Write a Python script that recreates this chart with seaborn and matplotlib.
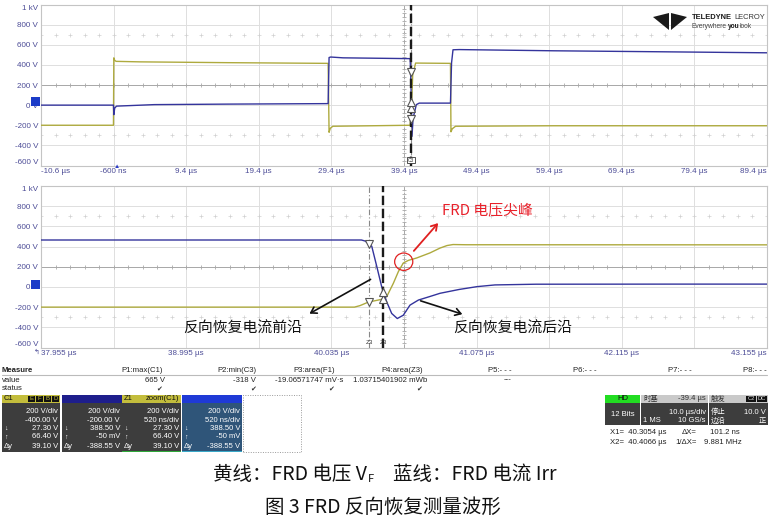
import numpy as np
import matplotlib
matplotlib.use("Agg")
import matplotlib.pyplot as plt
import seaborn as sns
from matplotlib.patches import Rectangle, Ellipse, Polygon

# ---- data ----
# overview, 10 us/div (time in us, level in V)
ov_t_c1 = [-10.6, -0.62, -0.57, -0.45, -0.25, 3.0, 15.0, 28.95, 29.08, 29.25, 29.6, 35.0,
           40.25, 40.45, 40.6, 41.0, 45.8, 45.87, 46.05, 46.5, 60.0, 89.4]
ov_v_c1 = [-200, -200, 470, 445, 435, 430, 422, 415, -270, -230, -210, -205,
           -200, 20, 300, 418, 415, -265, -235, -210, -205, -205]
ov_t_c3 = [-10.6, -0.62, -0.57, -0.45, -0.2, 5.0, 15.0, 28.95, 29.08, 29.3, 31.0, 40.25,
           40.36, 40.5, 40.65, 41.1, 41.5, 45.8, 45.95, 46.15, 47.0, 60.0, 75.0, 89.4]
ov_v_c3 = [0, 0, -95, -30, -10, 5, 10, 15, 473, 478, 470, 462,
           200, -310, -130, 5, 20, 20, 420, 550, 552, 540, 530, 520]

# zoom, 520 ns/div
zm_t_c1 = [37.955, 40.2, 40.24, 40.3, 40.395, 40.431, 40.479, 40.515, 40.55, 40.586,
           40.646, 40.741, 40.813, 40.863, 40.906, 41.0, 43.155]
zm_v_c1 = [-200, -200, -185, -150, -123, -97, 37, 153, 237, 263,
           287, 337, 385, 410, 420, 418, 417]
zm_t_c3 = [37.955, 40.25, 40.276, 40.3, 40.324, 40.36, 40.395, 40.431, 40.467, 40.507,
           40.55, 40.598, 40.658, 40.74, 40.813, 40.95, 41.078, 41.207, 41.5, 42.5, 43.155]
zm_v_c3 = [465, 465, 455, 430, 403, 203, 3, -147, -263, -313,
           -280, -180, -130, -95, -63, -25, 3, 20, 27, 28, 28]

cursor_t = [40.3054, 40.4066]
volt_ticks = [-600, -400, -200, 0, 200, 400, 600, 800, 1000]
volt_labels = ["-600 V", "-400 V", "-200 V", "0 V", "200 V", "400 V", "600 V", "800 V", "1 kV"]
ov_divs = [-10.6, -0.6, 9.4, 19.4, 29.4, 39.4, 49.4, 59.4, 69.4, 79.4, 89.4]
ov_labels = ["-10.6 µs", "-600 ns", "9.4 µs", "19.4 µs", "29.4 µs", "39.4 µs",
             "49.4 µs", "59.4 µs", "69.4 µs", "79.4 µs", "89.4 µs"]
zm_divs = [37.955, 38.475, 38.995, 39.515, 40.035, 40.555, 41.075, 41.595, 42.115, 42.635, 43.155]
zm_labels = ["37.955 µs", "", "38.995 µs", "", "40.035 µs", "", "41.075 µs", "",
             "42.115 µs", "", "43.155 µs"]

measure_heads = ["P1:max(C1)", "P2:min(C3)", "P3:area(F1)", "P4:area(Z3)",
                 "P5:- - -", "P6:- - -", "P7:- - -", "P8:- - -"]
measure_vals = ["665 V", "-318 V", "-19.06571747 mV·s", "1.03715401902 mWb", "---", "", "", ""]
chan_rows = [["200 V/div", "-400.00 V", "27.30 V", "66.40 V", "39.10 V"],
             ["200 V/div", "-200.00 V", "388.50 V", "-50 mV", "-388.55 V"],
             ["200 V/div", "520 ns/div", "27.30 V", "66.40 V", "39.10 V"],
             ["200 V/div", "520 ns/div", "388.50 V", "-50 mV", "-388.55 V"]]

YEL = "#aeaa3e"
BLU = "#34349c"
W, H = 769, 528

sns.set_theme(style="white")
plt.rcParams['font.family'] = ['Liberation Sans', 'DejaVu Sans']
CJK = ['Noto Sans CJK SC', 'DejaVu Sans']

fig = plt.figure(figsize=(W / 100, H / 100), dpi=100)
fig.patch.set_facecolor("white")


def fx(x):
    return x / W


def fy(y):
    return 1 - y / H


def rect(x0, y0, x1, y1, fc, ec="none", lw=0, ls="-"):
    fig.add_artist(Rectangle((fx(x0), fy(y1)), (x1 - x0) / W, (y1 - y0) / H,
                             transform=fig.transFigure, fc=fc, ec=ec, lw=lw, ls=ls))


def txt(x, y, s, size=5.6, color="#222222", ha="left", **kw):
    fig.text(fx(x), fy(y), s, fontsize=size, color=color, ha=ha, va="center", **kw)


ax_top = fig.add_axes([fx(41), fy(165.5), 726 / W, 161 / H])
ax_zm = fig.add_axes([fx(41), fy(347.5), 726 / W, 161.5 / H])


def style_axis(ax, divs, labels, center):
    ax.set_xlim(divs[0], divs[-1])
    ax.set_ylim(-600, 1000)
    ax.set_yticks(volt_ticks)
    ax.set_yticklabels(volt_labels)
    ax.set_xticks(divs)
    ax.set_xticklabels(labels)
    ax.grid(True, color="#dedede", lw=0.7)
    ax.tick_params(length=0, labelsize=5.8, labelcolor="#4b4b96", pad=2)
    for s in ax.spines.values():
        s.set_color("#c4c4c4")
        s.set_linewidth(0.8)
    xl = ax.get_xticklabels()
    xl[0].set_ha("left")
    xl[-1].set_ha("right")
    yl = ax.get_yticklabels()
    yl[0].set_va("bottom")
    yl[-1].set_va("top")
    step = (divs[1] - divs[0]) / 5
    # centre cross with sub-division marks
    ax.axhline(200, color="#a8a8a8", lw=0.7, zorder=1)
    ax.axvline(center, color="#a8a8a8", lw=0.7, ls=(0, (4, 2, 1, 2)), zorder=1)
    xs = np.arange(divs[0], divs[-1] + step / 2, step)
    ax.plot(xs, np.full_like(xs, 200.0), ls="none", marker="|", ms=3, mew=0.6, color="#a8a8a8")
    ys = np.arange(-600, 1001, 40)
    ax.plot(np.full_like(ys, center, dtype=float), ys, ls="none", marker="_", ms=3, mew=0.6,
            color="#a8a8a8")
    for lev in (700, -300):
        ax.plot(xs, np.full_like(xs, float(lev)), ls="none", marker="+", ms=2.5, mew=0.5,
                color="#d0d0d0")


style_axis(ax_top, ov_divs, ov_labels, 39.4)
style_axis(ax_zm, zm_divs, zm_labels, 40.555)

for ax, tc1, vc1, tc3, vc3 in [(ax_top, ov_t_c1, ov_v_c1, ov_t_c3, ov_v_c3),
                              (ax_zm, zm_t_c1, zm_v_c1, zm_t_c3, zm_v_c3)]:
    sns.lineplot(x=tc1, y=vc1, ax=ax, color=YEL, lw=1.0, estimator=None, zorder=3)
    sns.lineplot(x=tc3, y=vc3, ax=ax, color=BLU, lw=1.0, estimator=None, zorder=3)
    ax.axvline(cursor_t[0], color="#888888", lw=0.8, ls=(0, (5, 2, 1, 2)), zorder=4)
    ax.axvline(cursor_t[1], color="#1a1a1a", lw=1.7, ls=(0, (4, 1.5)), zorder=4)
    for k, mk in enumerate(["v", "^"]):
        for tt, vv in [(tc1, vc1), (tc3, vc3)]:
            ax.plot([cursor_t[k]], [np.interp(cursor_t[k], tt, vv)], marker=mk, ms=5.5,
                    mfc="white", mec="#555555", mew=0.8, ls="none", zorder=5)
    ax.set_xlabel("")
    ax.set_ylabel("")

# ground markers / trigger marker
for yy in (101.5, 284.5):
    rect(31, yy - 4.5, 40, yy + 4.5, "#1c3cc8")
txt(117, 167, "▲", size=4.5, color="#2c3cc8", ha="center")
txt(40, 352, "↰", size=5, color="#4b4b96", ha="right")
for xx in (369, 383):
    txt(xx, 342, "Z3", size=4.5, color="#333333", ha="center")
rect(407, 157, 415, 163, "white", ec="#333333", lw=0.6)
txt(411, 160, "C3", size=3.5, color="#333333", ha="center")

# zoom annotations
ax_zm.add_patch(Ellipse((40.553, 250), 0.13, 172, fill=False, ec="#e02020", lw=0.9, zorder=6))
fig.add_artist(matplotlib.patches.FancyArrowPatch((fx(412), fy(253)), (fx(440), fy(221)),
               transform=fig.transFigure, arrowstyle="->,head_length=4,head_width=2.5",
               color="#e02020", lw=1.3))
fig.add_artist(matplotlib.patches.FancyArrowPatch((fx(373), fy(278)), (fx(307), fy(315)),
               transform=fig.transFigure, arrowstyle="->,head_length=4,head_width=2.5",
               color="#111111", lw=1.2))
fig.add_artist(matplotlib.patches.FancyArrowPatch((fx(418), fy(300)), (fx(465), fy(315)),
               transform=fig.transFigure, arrowstyle="->,head_length=4,head_width=2.5",
               color="#111111", lw=1.2))
txt(442, 210, "FRD 电压尖峰", size=10.7, color="#e8202a", family=CJK)
txt(243, 328.5, "反向恢复电流前沿", size=10.7, color="#111111", ha="center", family=CJK)
txt(513, 328.5, "反向恢复电流后沿", size=10.7, color="#111111", ha="center", family=CJK)

# logo
fig.add_artist(Polygon([(fx(653), fy(17)), (fx(669), fy(13)), (fx(669), fy(30))],
                       closed=True, transform=fig.transFigure, fc="#1a1a1a", ec="none"))
fig.add_artist(Polygon([(fx(687), fy(17)), (fx(671), fy(13)), (fx(671), fy(30))],
                       closed=True, transform=fig.transFigure, fc="#1a1a1a", ec="none"))
txt(692, 17.5, "TELEDYNE", size=5.4, color="#1a1a1a", weight="bold")
txt(765, 17.5, "LECROY", size=5.4, color="#333333", ha="right")
txt(692, 26, "Everywhere", size=4.8, color="#444444")
txt(727.5, 26, "you", size=4.8, color="#1a1a1a", weight="bold")
txt(740, 26, "look", size=4.8, color="#444444")

# measure table
txt(2, 370, "Measure", weight="bold")
fig.add_artist(matplotlib.lines.Line2D([fx(2), fx(767)], [fy(375), fy(375)],
                                       transform=fig.transFigure, color="#bbbbbb", lw=0.8))
txt(2, 380, "value")
txt(2, 389, "status")
head_x = [163, 257, 335, 423, 512, 597, 692, 767]
val_x = [165, 256, 343, 427, 512, 597, 692, 767]
for k, h in enumerate(measure_heads):
    txt(head_x[k], 370, h, ha="right")
    if measure_vals[k]:
        txt(val_x[k] if k < 4 else 508, 380, measure_vals[k], ha="right" if k < 4 else "center")
    if k < 4:
        txt(head_x[k] - 4, 389.5, "✔", size=5, color="#333333", ha="center")

# channel boxes
boxes = [(2, 60, "#c3bd3c", "#3d3d3d", "#3d3d3d"), (62, 122, "#1e1e8c", "#3d3d3d", "#3d3d3d"),
         (122, 181, "#c3bd3c", "#3d3d3d", "#2fa83a"), (182, 242, "#1f3ad6", "#2f5579", "#3aa8c8")]
for k, (x0, x1, hc, bc, lc) in enumerate(boxes):
    rect(x0, 395, x1, 403, hc)
    rect(x0, 403, x1, 452, bc)
    rect(x0, 450.5, x1, 452, lc)
    for r, (yy, s) in enumerate(zip([411.5, 420, 428.5, 437, 446], chan_rows[k])):
        txt(x1 - 2, yy, s, color="white", ha="right", size=5.5)
    txt(x0 + 2, 428.5, "↓", color="white", size=5)
    txt(x0 + 2, 437, "↑", color="white", size=5)
    txt(x0 + 2, 446, "Δy", color="white", size=5.5)
txt(4, 399, "C1", color="#111111", size=5.5)
for j, ch in enumerate("EFBD"):
    rect(28 + j * 8, 396, 35 + j * 8, 402, "#111111")
    txt(31.5 + j * 8, 399, ch, color="#c3bd3c", size=4.3, ha="center")
txt(124, 399, "Z1", color="#111111", size=5.5)
txt(179, 399, "zoom(C1)", color="#111111", size=5.5, ha="right")
rect(243, 395, 301, 452, "none", ec="#9a9a9a", lw=0.7, ls=(0, (1, 1.5)))

# acquisition panel
rect(605, 395, 640, 403, "#22dd22")
rect(605, 403, 640, 425, "#3d3d3d")
txt(622.5, 399, "HD", color="#111111", size=5.5, ha="center")
txt(622.5, 414, "12 Bits", color="white", size=5.5, ha="center")
rect(641, 395, 708, 403, "#c9c9c9")
rect(641, 403, 708, 425, "#3d3d3d")
txt(643, 399, "时基", color="#333333", size=5.3, family=CJK)
txt(706, 399, "-39.4 µs", color="#333333", size=5.5, ha="right")
txt(706, 412, "10.0 µs/div", color="white", size=5.5, ha="right")
txt(643, 421, "1 MS", color="white", size=5.5)
txt(706, 421, "10 GS/s", color="white", size=5.5, ha="right")
rect(709, 395, 768, 403, "#c9c9c9")
rect(709, 403, 768, 425, "#3d3d3d")
txt(711, 399, "触发", color="#333333", size=5.3, family=CJK)
rect(746, 396, 756, 402, "#111111")
rect(757, 396, 767, 402, "#111111")
txt(751, 399, "C2", color="#dddddd", size=4.2, ha="center")
txt(762, 399, "DC", color="#dddddd", size=4.2, ha="center")
txt(711, 412, "停止", color="white", size=5.3, family=CJK)
txt(766, 412, "10.0 V", color="white", size=5.5, ha="right")
txt(711, 421, "边沿", color="white", size=5.3, family=CJK)
txt(766, 421, "正", color="white", size=5.3, ha="right", family=CJK)
txt(610, 433, "X1=  40.3054 µs", color="#222222", size=5.6)
txt(682, 433, "ΔX=", color="#222222", size=5.6)
txt(710, 433, "101.2 ns", color="#222222", size=5.6)
txt(610, 442, "X2=  40.4066 µs", color="#222222", size=5.6)
txt(675, 442, "1/ΔX=", color="#222222", size=5.6)
txt(704, 442, "9.881 MHz", color="#222222", size=5.6)

# captions
txt(367, 474, "黄线：FRD 电压 V", size=14, color="#111111", ha="right", family=CJK)
txt(368, 478.5, "F", size=8, color="#111111", family=CJK)
txt(393, 474, "蓝线：FRD 电流 Irr", size=14, color="#111111", family=CJK)
txt(383, 507.5, "图 3 FRD 反向恢复测量波形", size=14, color="#111111", ha="center", family=CJK)

fig.savefig("out.png", dpi=100)
